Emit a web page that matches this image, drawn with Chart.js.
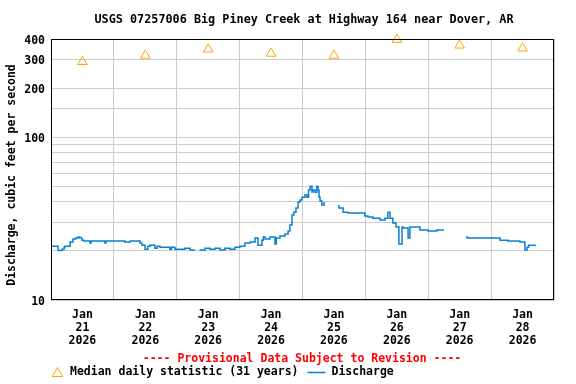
<!DOCTYPE html>
<html>
<head>
<meta charset="utf-8">
<script src="https://cdn.jsdelivr.net/npm/chart.js@4/dist/chart.umd.min.js"></script>
<style>
  body { margin: 0; background: #fff; }
  #wrap { width: 576px; height: 384px; position: relative; }
</style>
</head>
<body>
<div id="wrap"><canvas id="myChart"></canvas></div>
<script>
// chart text
const chartTitle = "USGS 07257006 Big Piney Creek at Highway 164 near Dover, AR";
const yTitle = "Discharge, cubic feet per second";
const provisionalText = "---- Provisional Data Subject to Revision ----";
const medianLabel = "Median daily statistic (31 years)";
const dischargeLabel = "Discharge";

// x axis: hours since Jan 21 2026 00:00, one label per day at noon
const dayNumbers = [21, 22, 23, 24, 25, 26, 27, 28];
const monthLabel = "Jan";
const yearLabel = "2026";
const yLabelValues = [10, 100, 200, 300, 400];

// median daily statistic (one per day, at noon)
const medianHours = [12, 36, 60, 84, 108, 132, 156, 180];
const medianValues = [290, 317, 346, 326, 317, 397, 366, 351];

// discharge readings (null = missing data)
const dischargeHours = [
  0, 2.7, 4.2, 5.0, 5.3, 7.3, 8.4, 9.5, 10.3, 11.0, 11.8, 12.6, 14.9, 15.3, 16.0, 20.6, 21.0, 21.4, 24,
  26.3, 28.2, 30.2, 30.6, 32.1, 34.0, 34.7, 35.9, 37.0, 37.8, 38.5, 39.7, 40.5, 41.6, 43.5, 45.4, 46.0, 47.3, 49.2,
  51.1, 53.1, 55.0, 55.6, 57.0, 58.8, 60.7, 62.6, 64.5, 66.4, 68.3, 70.2, 72.1,
  74.0, 76.0, 77.9, 79.0, 80.5, 81.0, 81.7, 83.6, 85.5, 86.0, 87.4, 89.3, 90.5, 91.2, 92.0, 92.7, 93.5, 94.3,
  95.0, 95.8, 96.9, 97.7, 98.3, 98.9, 99.6, 100.0, 100.8, 101.5, 101.9, 102.3, 102.7, 103.4, 104.2, 104.6, 105,
  109.9, 111.5, 113.4, 114.9, 116.8, 119.8, 121, 122.9, 125.6, 127.5, 128.6, 129.4, 130.5, 131.7, 132.8,
  134.0, 134.4, 136.3, 137.0, 137.4, 140.8, 143.9, 147.3, 150.0, 150.5,
  158.8, 161.8, 166.4, 171.4, 174.4, 179.0, 180.9, 181.7, 182.3, 182.8, 185.1
];
const dischargeValues = [
  21.4, 21.4, 20.1, 20.5, 21.1, 21.4, 22.7, 23.7, 24.0, 24.4, 24.0, 23.3, 23.0, 22.4, 23.0, 23.0, 22.4, 23.0, 23.0,
  23.0, 23.0, 22.7, 23.0, 23.0, 23.0, 22.4, 21.7, 20.5, 21.4, 21.7, 21.7, 20.8, 21.4, 21.1, 21.1, 20.5, 21.1, 20.5,
  20.5, 20.8, 20.3, null, 20.5, 20.3, 20.8, 20.5, 20.8, 20.3, 20.8, 20.5, 21.1,
  21.4, 22.4, 22.7, 24.0, 21.7, 23.3, 24.4, 23.7, 24.4, 22.1, 24.0, 24.7, 25.4, 26.5, 28.9, 33.2, 34.6, 36.7,
  39.9, 41.1, 42.8, 44.1, 42.8, 47.3, 50.0, 46.0, 47.3, 45.9, 50.0, 47.3, 42.8, 40.5, 38.3, 39.4, null,
  38.3, 36.7, 34.6, 34.2, 34.2, 34.2, 32.8, 32.3, 31.8, 31.0, 31.8, 34.6, 31.8, 29.7, 28.1,
  22.1, 28.1, 27.7, 24.0, 28.1, 28.1, 26.9, 26.5, 26.9, null,
  24.7, 24.0, 24.0, 24.0, 23.3, 23.0, 22.7, 20.3, 21.1, 21.7, 21.7
];

const FONT = "'DejaVu Sans Mono', monospace";
const FSIZE = 11.5;
const medianColor = "#FFA500";
const dischargeColor = "#0a80d0";

const medianPoints = medianHours.map((h, i) => ({x: h, y: medianValues[i]}));
const dischargePoints = dischargeHours.map((h, i) => ({x: h, y: dischargeValues[i]}));

// draws title, frame, y title, provisional note and legend
const decorations = {
  id: 'decorations',
  afterDraw(chart) {
    const c = chart.ctx;
    const a = chart.chartArea;
    c.save();
    c.strokeStyle = '#000';
    c.lineWidth = 1;
    c.strokeRect(a.left + 0.5, a.top + 0.5, a.right - a.left - 1, a.bottom - a.top - 1);

    c.textBaseline = 'middle';
    c.fillStyle = '#000';
    c.textAlign = 'center';
    c.font = 'bold 11.8px ' + FONT;
    c.fillText(chartTitle, 304, 20);

    c.font = 'bold ' + FSIZE + 'px ' + FONT;
    c.save();
    c.translate(12, 175);
    c.rotate(-Math.PI / 2);
    c.fillText(yTitle, 0, 0);
    c.restore();

    c.fillStyle = '#ff0000';
    c.fillText(provisionalText, 302, 359);

    // legend
    c.textAlign = 'left';
    c.strokeStyle = medianColor;
    c.beginPath();
    c.moveTo(57.5, 367.5);
    c.lineTo(62.5, 376.5);
    c.lineTo(52.5, 376.5);
    c.closePath();
    c.stroke();
    c.fillStyle = '#000';
    c.fillText(medianLabel, 70, 372.5);
    const w = c.measureText(medianLabel).width;
    c.strokeStyle = dischargeColor;
    c.lineWidth = 1.5;
    c.beginPath();
    c.moveTo(70 + w + 9, 372.5);
    c.lineTo(70 + w + 27, 372.5);
    c.stroke();
    c.fillText(dischargeLabel, 70 + w + 33, 372.5);
    c.restore();
  }
};

new Chart("myChart", {
  type: "line",
  data: {
    datasets: [{
      label: medianLabel,
      data: medianPoints,
      showLine: false,
      clip: false,
      pointStyle: 'triangle',
      pointRadius: 5.5,
      pointBorderColor: medianColor,
      pointBackgroundColor: 'rgba(0,0,0,0)',
      pointBorderWidth: 1
    }, {
      label: dischargeLabel,
      data: dischargePoints,
      borderColor: dischargeColor,
      borderWidth: 1.5,
      pointRadius: 0,
      stepped: 'after',
      spanGaps: false
    }]
  },
  options: {
    responsive: true,
    maintainAspectRatio: false,
    animation: false,
    layout: { padding: { top: 39, right: 22, left: 0, bottom: 0 } },
    plugins: {
      legend: { display: false },
      title: { display: false },
      tooltip: { enabled: false }
    },
    scales: {
      x: {
        type: 'linear',
        min: 0,
        max: 192,
        afterFit: s => { s.height = 84; },
        afterBuildTicks: s => {
          const t = [];
          for (let v = 0; v <= 192; v += 12) t.push({value: v});
          s.ticks = t;
        },
        border: { display: false },
        grid: {
          drawTicks: false,
          color: ctx => (ctx.tick && ctx.tick.value % 24 === 0) ? '#cccccc' : 'rgba(0,0,0,0)'
        },
        ticks: {
          autoSkip: false,
          maxRotation: 0,
          padding: 9,
          color: '#000',
          font: { family: FONT, size: FSIZE, weight: 'bold', lineHeight: 1.13 },
          callback: v => {
            if (v % 24 !== 12) return '';
            return [monthLabel, String(dayNumbers[(v - 12) / 24]), yearLabel];
          }
        }
      },
      y: {
        type: 'logarithmic',
        min: 10,
        max: 400,
        afterFit: s => { s.width = 51; },
        border: { display: false },
        grid: { drawTicks: false, color: '#cccccc' },
        ticks: {
          autoSkip: false,
          padding: 6,
          labelOffset: 2,
          color: '#000',
          font: { family: FONT, size: FSIZE, weight: 'bold' },
          callback: v => yLabelValues.includes(v) ? String(v) : ''
        }
      }
    }
  },
  plugins: [decorations]
});
</script>
</body>
</html>
